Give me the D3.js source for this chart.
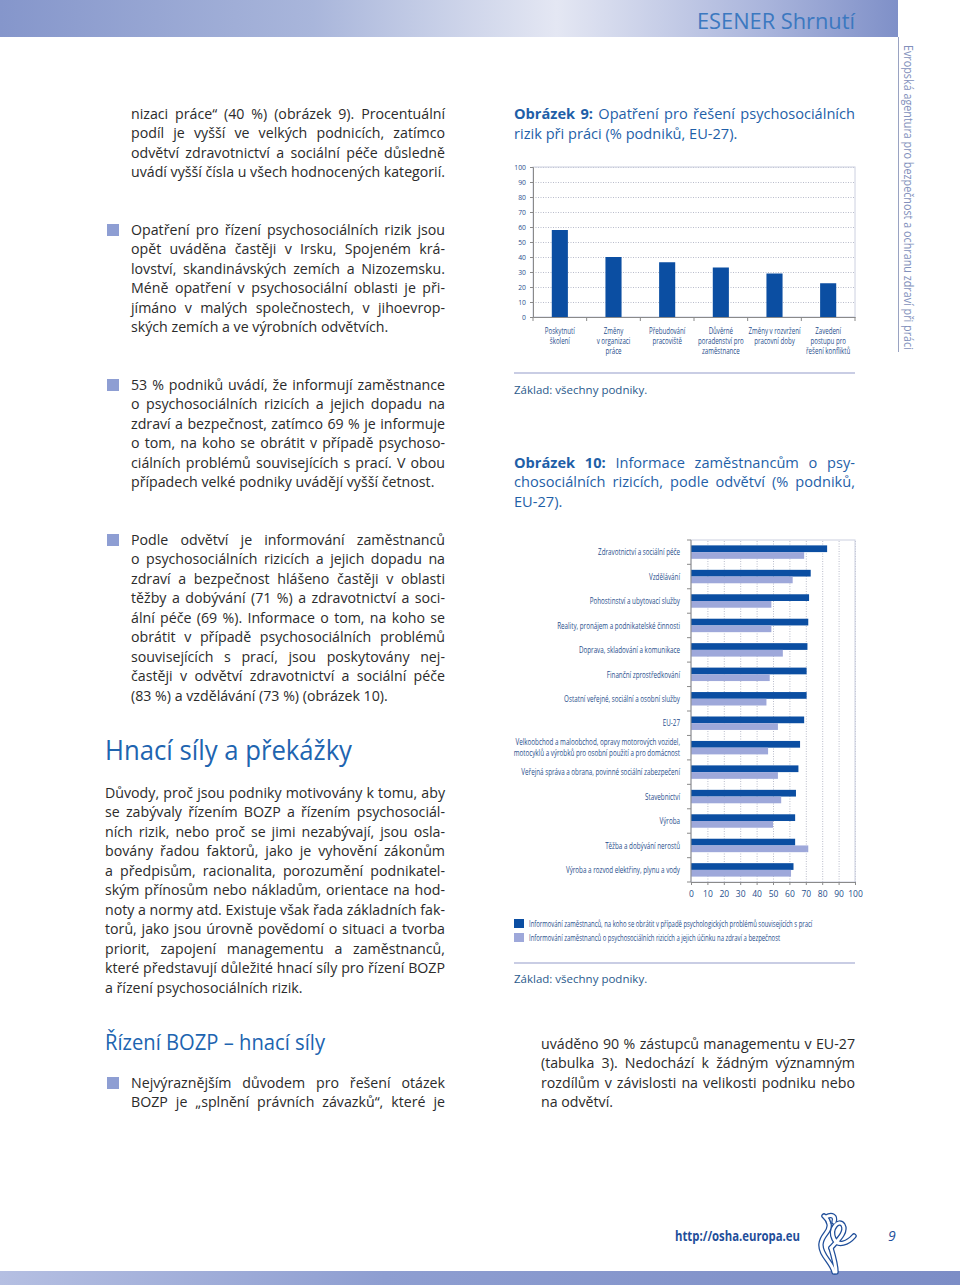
<!DOCTYPE html>
<html><head><meta charset="utf-8">
<script src="https://cdn.jsdelivr.net/npm/d3@7"></script>
<style>body{margin:0;background:#fff}svg{display:block}</style>
</head><body>
<script>
// ---------- DATA ----------
const fig9Categories = [
  "Poskytnutí\nškolení",
  "Změny\nv organizaci\npráce",
  "Přebudování\npracoviště",
  "Důvěrné\nporadenství pro\nzaměstnance",
  "Změny v rozvržení\npracovní doby",
  "Zavedení\npostupu pro\nřešení konfliktů"
];
const fig9Values = [58, 40, 36.5, 33, 29, 22.5];
const fig9Ticks = [0,10,20,30,40,50,60,70,80,90,100];

const fig10Sectors = [
  "Zdravotnictví a sociální péče",
  "Vzdělávání",
  "Pohostinství a ubytovací služby",
  "Reality, pronájem a podnikatelské činnosti",
  "Doprava, skladování a komunikace",
  "Finanční zprostředkování",
  "Ostatní veřejné, sociální a osobní služby",
  "EU-27",
  "Velkoobchod a maloobchod, opravy motorových vozidel,\nmotocyklů a výrobků pro osobní použití a pro domácnost",
  "Veřejná správa a obrana, povinné sociální zabezpečení",
  "Stavebnictví",
  "Výroba",
  "Těžba a dobývání nerostů",
  "Výroba a rozvod elektřiny, plynu a vody"
];
const fig10Contact = [83, 73, 72, 71.5, 71, 70.5, 70.5, 69, 66.5, 65.5, 64, 63.5, 63.5, 62.5];
const fig10Risks   = [69, 62, 49, 49, 56, 48, 46, 53, 47, 53, 55, 50, 71.5, 61];
const fig10Ticks = [0,10,20,30,40,50,60,70,80,90,100];
const fig10Legend = [
  "Informování zaměstnanců, na koho se obrátit v případě psychologických problémů souvisejících s prací",
  "Informování zaměstnanců o psychosociálních rizicích a jejich účinku na zdraví a bezpečnost"
];

const para1 = [
  ["nizaci práce“ (40 %) (obrázek 9). Procentuální",1],
  ["podíl je vyšší ve velkých podnicích, zatímco",1],
  ["odvětví zdravotnictví a sociální péče důsledně",1],
  ["uvádí vyšší čísla u všech hodnocených kategorií.",1]
];
const para2 = [
  ["Opatření pro řízení psychosociálních rizik jsou",1],
  ["opět uváděna častěji v Irsku, Spojeném krá-",1],
  ["lovství, skandinávských zemích a Nizozemsku.",1],
  ["Méně opatření v psychosociální oblasti je při-",1],
  ["jímáno v malých společnostech, v jihoevrop-",1],
  ["ských zemích a ve výrobních odvětvích.",0]
];
const para3 = [
  ["53 % podniků uvádí, že informují zaměstnance",1],
  ["o psychosociálních rizicích a jejich dopadu na",1],
  ["zdraví a bezpečnost, zatímco 69 % je informuje",1],
  ["o tom, na koho se obrátit v případě psychoso-",1],
  ["ciálních problémů souvisejících s prací. V obou",1],
  ["případech velké podniky uvádějí vyšší četnost.",0]
];
const para4 = [
  ["Podle odvětví je informování zaměstnanců",1],
  ["o psychosociálních rizicích a jejich dopadu na",1],
  ["zdraví a bezpečnost hlášeno častěji v oblasti",1],
  ["těžby a dobývání (71 %) a zdravotnictví a soci-",1],
  ["ální péče (69 %). Informace o tom, na koho se",1],
  ["obrátit v případě psychosociálních problémů",1],
  ["souvisejících s prací, jsou poskytovány nej-",1],
  ["častěji v odvětví zdravotnictví a sociální péče",1],
  ["(83 %) a vzdělávání (73 %) (obrázek 10).",0]
];
const para5 = [
  ["Důvody, proč jsou podniky motivovány k tomu, aby",1],
  ["se zabývaly řízením BOZP a řízením psychosociál-",1],
  ["ních rizik, nebo proč se jimi nezabývají, jsou osla-",1],
  ["bovány řadou faktorů, jako je vyhovění zákonům",1],
  ["a předpisům, racionalita, porozumění podnikatel-",1],
  ["ským přínosům nebo nákladům, orientace na hod-",1],
  ["noty a normy atd. Existuje však řada základních fak-",1],
  ["torů, jako jsou úrovně povědomí o situaci a tvorba",1],
  ["priorit, zapojení managementu a zaměstnanců,",1],
  ["které představují důležité hnací síly pro řízení BOZP",1],
  ["a řízení psychosociálních rizik.",0]
];
const para6 = [
  ["Nejvýraznějším důvodem pro řešení otázek",1],
  ["BOZP je „splnění právních závazků“, které je",1]
];
const para7 = [
  ["uváděno 90 % zástupců managementu v EU-27",1],
  ["(tabulka 3). Nedochází k žádným významným",1],
  ["rozdílům v závislosti na velikosti podniku nebo",1],
  ["na odvětví.",0]
];

// ---------- SETUP ----------
const W = 960, H = 1285;
const BODY = "'Open Sans','Noto Sans',sans-serif";
const TXT = "#2b2b2b", BLUE = "#1f5fa8", LBL = "#1f4e8c";
const DARK = "#0b4ea2", LIGHT = "#9ea8da", BULLET = "#8e9ed3";
const COND = 0.66;

const svg = d3.select("body").append("svg").attr("width", W).attr("height", H)
  .style("font-family", BODY);
const defs = svg.append("defs");
function grad(id, stops) {
  const g = defs.append("linearGradient").attr("id", id).attr("x1", 0).attr("x2", 1).attr("y1", 0).attr("y2", 0);
  stops.forEach(s => g.append("stop").attr("offset", s[0]).attr("stop-color", s[1]));
}
grad("hdr", [[0,"#8596cb"],[0.35,"#a9b6db"],[0.62,"#e4e7f3"],[0.85,"#aab5dc"],[1,"#7f90c8"]]);
grad("ftr", [[0,"#b5bfe2"],[0.4,"#8e9ed1"],[1,"#7c8dc6"]]);

// header
svg.append("rect").attr("x",0).attr("y",0).attr("width",898).attr("height",37).attr("fill","url(#hdr)");
svg.append("text").attr("x",697).attr("y",29).attr("font-size",22).attr("fill","#3b78c0")
  .attr("textLength",158).attr("lengthAdjust","spacingAndGlyphs").text("ESENER Shrnutí");
svg.append("line").attr("x1",898.5).attr("x2",898.5).attr("y1",37).attr("y2",352).attr("stroke","#9aa3c2").attr("stroke-width",1);
svg.append("text").attr("transform","translate(904,45) rotate(90)").attr("font-size",12.5).attr("fill","#8290bb")
  .attr("textLength",305).attr("lengthAdjust","spacingAndGlyphs")
  .text("Evropská agentura pro bezpečnost a ochranu zdraví při práci");

// footer
svg.append("rect").attr("x",0).attr("y",1271).attr("width",W).attr("height",14).attr("fill","url(#ftr)");
svg.append("text").attr("x",675).attr("y",1241).attr("font-size",13.5).attr("font-weight","bold").attr("fill","#1f4e9a")
  .attr("textLength",125).attr("lengthAdjust","spacingAndGlyphs").text("http://osha.europa.eu");
svg.append("text").attr("x",888).attr("y",1241).attr("font-size",14).attr("font-style","italic").attr("fill","#1f4e9a").text("9");
// logo (stylised figure)
const logo = svg.append("g");
const logoPaths = [
  "M834,1272 C832,1262 820,1255 821,1244 C822,1234 831,1232 829,1224 C828,1219 825,1217 824,1216",
  "M826,1217 C832,1214 836,1216 834,1222",
  "M831,1248 C838,1240 847,1232 843,1225 C839,1219 829,1228 834,1239 C838,1247 848,1243 854,1236",
  "M831,1248 C834,1258 836,1265 836,1272"
];
logoPaths.forEach(p => {
  logo.append("path").attr("d",p).attr("fill","none").attr("stroke","#1f4e9a").attr("stroke-width",5.5).attr("stroke-linecap","round");
});
logoPaths.forEach(p => {
  logo.append("path").attr("d",p).attr("fill","none").attr("stroke","#fff").attr("stroke-width",3).attr("stroke-linecap","round");
});

// ---------- TEXT HELPERS ----------
function justifyText(t, width) {
  const node = t.node();
  const w = node.getComputedTextLength();
  const str = node.textContent;
  const n = (str.match(/ /g) || []).length;
  if (w < width && n > 0) {
    t.attr("word-spacing", ((width - w) / n).toFixed(3));
    const w2 = node.getBBox().width;
    if (Math.abs(w2 - width) > 2) { t.attr("word-spacing", null).attr("textLength", width).attr("lengthAdjust", "spacing"); }
  } else if (w > width) {
    t.attr("textLength", width).attr("lengthAdjust", "spacingAndGlyphs");
  }
}
function paragraph(lines, x, y0, width, lh, size, color) {
  lines.forEach((l, i) => {
    const t = svg.append("text").attr("x", x).attr("y", y0 + i * lh).attr("font-size", size).attr("fill", color).text(l[0]);
    if (l[1]) justifyText(t, width);
    else {
      const w = t.node().getComputedTextLength();
      if (w > width) t.attr("textLength", width).attr("lengthAdjust", "spacingAndGlyphs");
    }
  });
}
function bullet(y) {
  svg.append("rect").attr("x",107).attr("y",y).attr("width",12).attr("height",12).attr("fill",BULLET);
}

const FS = 14.2, LH = 19.45;
paragraph(para1, 131, 119, 314, LH, FS, TXT);
bullet(224); paragraph(para2, 131, 235, 314, LH, FS, TXT);
bullet(379); paragraph(para3, 131, 390, 314, LH, FS, TXT);
bullet(534); paragraph(para4, 131, 545, 314, LH, FS, TXT);
svg.append("text").attr("x",105).attr("y",760).attr("font-size",27).attr("fill","#2064b0")
  .attr("textLength",247).attr("lengthAdjust","spacingAndGlyphs").text("Hnací síly a překážky");
paragraph(para5, 105, 798, 340, LH, FS, TXT);
svg.append("text").attr("x",105).attr("y",1050).attr("font-size",21).attr("fill","#2064b0")
  .attr("textLength",220).attr("lengthAdjust","spacingAndGlyphs").text("Řízení BOZP – hnací síly");
bullet(1077); paragraph(para6, 131, 1088, 314, LH, FS, TXT);
paragraph(para7, 541, 1049, 314, LH, FS, TXT);

// captions
function caption(y, bold, rest, width) {
  const t = svg.append("text").attr("x",514).attr("y",y).attr("font-size",14.6).attr("fill",BLUE);
  if (bold) t.append("tspan").attr("font-weight","bold").text(bold);
  t.append("tspan").text(rest);
  if (width) justifyText(t, width);
}
caption(119, "Obrázek 9:", " Opatření pro řešení psychosociálních", 341);
caption(139, null, "rizik při práci (% podniků, EU-27).", 0);
caption(468, "Obrázek 10:", " Informace zaměstnancům o psy-", 341);
caption(487, null, "chosociálních rizicích, podle odvětví (% podniků,", 341);
caption(507, null, "EU-27).", 0);

function zaklad(y, lineY) {
  svg.append("line").attr("x1",514).attr("x2",855).attr("y1",lineY).attr("y2",lineY).attr("stroke","#c9cde4").attr("stroke-width",2);
  svg.append("text").attr("x",514).attr("y",y).attr("font-size",11.5).attr("fill","#2a5a8c").text("Základ: všechny podniky.");
}
zaklad(394, 373);
zaklad(983, 963);

// condensed multi-line label as one text element with tspans
function condText(g, x, y, lines, size, anchor, lh) {
  const t = g.append("text").attr("transform", `translate(${x},${y}) scale(${COND},1)`)
    .attr("text-anchor", anchor).attr("font-size", size).attr("fill", LBL);
  lines.forEach((s, k) => t.append("tspan").attr("x", 0).attr("y", k * lh).text(s));
  return t;
}

// ---------- FIGURE 9 ----------
{
  const L = 533, R = 855, T = 167, B = 317;
  const g = svg.append("g");
  const y = d3.scaleLinear().domain([0,100]).range([B,T]);
  const x = d3.scaleBand().domain(fig9Categories.map((d,i)=>i)).range([L,R]);
  g.append("g").attr("transform",`translate(${L},0)`)
    .call(d3.axisLeft(y).tickValues(fig9Ticks.slice(1)).tickSize(-(R-L)).tickFormat(""))
    .call(a => a.select(".domain").remove())
    .call(a => a.selectAll("line").attr("stroke","#b9bccb").attr("stroke-dasharray","1,1.5"));
  g.append("rect").attr("x",L).attr("y",T).attr("width",R-L).attr("height",B-T).attr("fill","none").attr("stroke","#ccd0e0");
  g.selectAll(".bar").data(fig9Values).join("rect")
    .attr("x",(d,i)=>x(i)+x.bandwidth()*0.35).attr("width",x.bandwidth()*0.3)
    .attr("y",d=>y(d)).attr("height",d=>B-y(d)).attr("fill",DARK);
  const ya = g.append("g").attr("transform",`translate(${L},0)`)
    .call(d3.axisLeft(y).tickValues(fig9Ticks).tickSize(3).tickPadding(3));
  ya.select(".domain").attr("stroke","#8a8a8a");
  ya.selectAll("line").attr("stroke","#8a8a8a");
  ya.selectAll("text").attr("font-family",BODY).attr("font-size",8).attr("fill",LBL)
    .attr("transform","scale(0.85,1)").attr("x",-7/0.85);
  const xa = g.append("g").attr("transform",`translate(0,${B})`)
    .call(d3.axisBottom(x).tickValues([]).tickSizeOuter(0));
  xa.select(".domain").attr("stroke","#8a8a8a");
  d3.range(fig9Categories.length + 1).forEach(i => {
    const xx = i < fig9Categories.length ? x(i) : R;
    g.append("line").attr("x1",xx).attr("x2",xx).attr("y1",B).attr("y2",B+4).attr("stroke","#8a8a8a");
  });
  fig9Categories.forEach((c,i) => {
    condText(g, x(i)+x.bandwidth()/2, 334, c.split("\n"), 9.3, "middle", 10);
  });
}

// ---------- FIGURE 10 ----------
{
  const L = 691, R = 855, T = 540, B = 882;
  const g = svg.append("g");
  const x = d3.scaleLinear().domain([0,100]).range([L,R]);
  const y = d3.scaleBand().domain(fig10Sectors).range([T,B]).paddingInner(0.45).paddingOuter(0.22);
  const sub = d3.scaleBand().domain([0,1]).range([0,y.bandwidth()]);
  g.append("g").attr("transform",`translate(0,${B})`)
    .call(d3.axisBottom(x).tickValues(fig10Ticks.slice(1)).tickSize(-(B-T)).tickFormat(""))
    .call(a => a.select(".domain").remove())
    .call(a => a.selectAll("line").attr("stroke","#b9bccb").attr("stroke-dasharray","1,1.5"));
  g.append("rect").attr("x",L).attr("y",T).attr("width",R-L).attr("height",B-T).attr("fill","none").attr("stroke","#ccd0e0");
  g.selectAll(".c").data(fig10Contact).join("rect")
    .attr("x",L).attr("y",(d,i)=>y(fig10Sectors[i])+sub(0)).attr("height",sub.bandwidth())
    .attr("width",d=>x(d)-L).attr("fill",DARK);
  g.selectAll(".r").data(fig10Risks).join("rect")
    .attr("x",L).attr("y",(d,i)=>y(fig10Sectors[i])+sub(1)).attr("height",sub.bandwidth())
    .attr("width",d=>x(d)-L).attr("fill",LIGHT);
  const xa = g.append("g").attr("transform",`translate(0,${B})`)
    .call(d3.axisBottom(x).tickValues(fig10Ticks).tickSize(3).tickPadding(6));
  xa.select(".domain").attr("stroke","#8a8a8a");
  xa.selectAll("line").attr("stroke","#8a8a8a");
  xa.selectAll("text").attr("font-family",BODY).attr("font-size",8.5).attr("fill",LBL);
  g.append("line").attr("x1",L).attr("x2",L).attr("y1",T).attr("y2",B).attr("stroke","#8a8a8a");
  const step = y.step();
  d3.range(fig10Sectors.length + 1).forEach(i => {
    const yy = T + (y.paddingOuter() - y.paddingInner()/2) * step + i * step;
    const yc = i === 0 ? T : (i === fig10Sectors.length ? B : yy);
    g.append("line").attr("x1",L-4).attr("x2",L).attr("y1",yc).attr("y2",yc).attr("stroke","#8a8a8a");
  });
  fig10Sectors.forEach(s => {
    const parts = s.split("\n");
    const cy = y(s) + y.bandwidth()/2;
    condText(g, 680, cy + 3.2 - (parts.length-1)/2*11, parts, 9.5, "end", 11);
  });
  [DARK, LIGHT].forEach((c,i) => {
    svg.append("rect").attr("x",514).attr("y",919 + i*14).attr("width",10).attr("height",9).attr("fill",c);
    condText(svg, 529, 927 + i*14, [fig10Legend[i]], 9, "start", 0);
  });
}
</script>
</body></html>
